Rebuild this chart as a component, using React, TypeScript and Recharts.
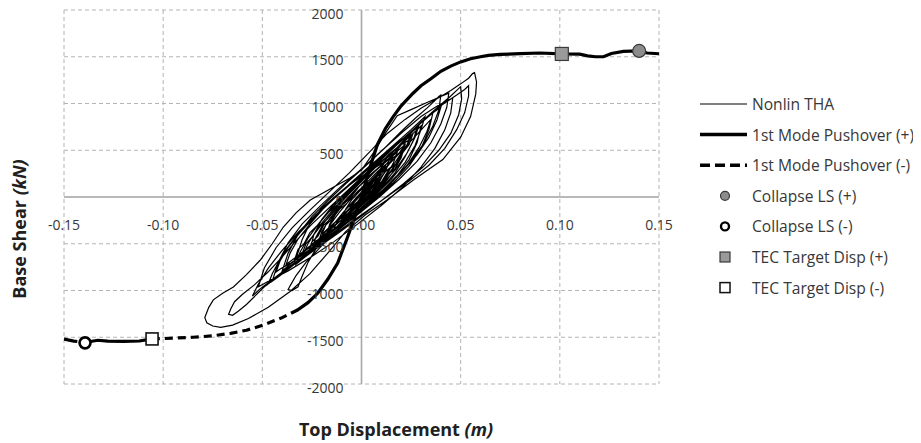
import React from 'react';
import { ComposedChart, Line, Scatter, XAxis, YAxis, CartesianGrid, ReferenceLine, Legend } from 'recharts';

// ---------- data ----------
const xTicks = [-0.15, -0.1, -0.05, 0, 0.05, 0.1, 0.15];
const yTicks = [-2000, -1500, -1000, -500, 0, 500, 1000, 1500, 2000];

const seriesNames = [
  'Nonlin THA',
  '1st Mode Pushover (+)',
  '1st Mode Pushover (-)',
  'Collapse LS (+)',
  'Collapse LS (-)',
  'TEC Target Disp (+)',
  'TEC Target Disp (-)',
];

// Nonlinear time-history hysteresis trace (displacement m, base shear kN)
const thaPath: [number, number][] = [
  [0, 0], [0.002, 60], [0.005, 140], [0.008, 210],
  [0.006, 130], [0.003, 40], [-0.001, -50], [-0.005, -140], [-0.008, -200], [-0.010, -240],
  [-0.008, -130], [-0.005, -30], [-0.001, 60], [0.004, 160], [0.009, 270], [0.012, 340], [0.014, 380],
  [0.012, 280], [0.009, 160], [0.005, 50], [0.000, -60], [-0.006, -180], [-0.011, -290], [-0.015, -370], [-0.018, -430],
  [-0.016, -290], [-0.012, -150], [-0.007, -10], [-0.001, 120], [0.006, 260], [0.012, 380], [0.017, 470], [0.022, 560],
  [0.020, 420], [0.016, 270], [0.011, 130], [0.005, 0], [-0.002, -130], [-0.009, -260], [-0.016, -380], [-0.021, -480], [-0.026, -570],
  [-0.024, -400], [-0.020, -240], [-0.014, -80], [-0.007, 60], [0.001, 210], [0.009, 360], [0.017, 500], [0.024, 640], [0.030, 760],
  [0.028, 580], [0.024, 400], [0.018, 230], [0.011, 80], [0.003, -70], [-0.006, -220], [-0.014, -350], [-0.022, -470], [-0.028, -570], [-0.033, -660],
  [-0.030, -460], [-0.026, -280], [-0.020, -120], [-0.012, 30], [-0.003, 190], [0.006, 360], [0.015, 520], [0.023, 660], [0.030, 790], [0.036, 900],
  [0.034, 720], [0.030, 520], [0.024, 330], [0.016, 150], [0.007, -20], [-0.003, -200], [-0.013, -360], [-0.022, -500], [-0.030, -620], [-0.036, -720], [-0.040, -790],
  [-0.037, -600], [-0.032, -400], [-0.025, -210], [-0.017, -40], [-0.008, 140], [0.002, 330], [0.012, 530], [0.020, 700], [0.027, 840], [0.033, 950], [0.037, 1030], [0.039, 1075], [0.040, 1090],
  [0.039, 930], [0.036, 760], [0.031, 560], [0.024, 360], [0.015, 160], [0.005, -40], [-0.006, -240], [-0.017, -430], [-0.027, -600], [-0.036, -750], [-0.041, -840], [-0.045, -900],
  [-0.042, -700], [-0.037, -490], [-0.030, -290], [-0.021, -100], [-0.011, 100], [0.000, 300], [0.011, 510], [0.021, 700], [0.030, 860], [0.038, 970], [0.043, 1030], [0.046, 1060],
  [0.045, 900], [0.042, 720], [0.037, 520], [0.030, 320], [0.021, 110], [0.010, -90], [-0.002, -290], [-0.014, -480], [-0.026, -650], [-0.037, -790], [-0.046, -890], [-0.052, -960],
  [-0.049, -760], [-0.043, -540], [-0.035, -330], [-0.026, -140], [-0.016, 60], [-0.006, 260], [0.004, 480], [0.013, 680], [0.022, 830], [0.030, 950], [0.038, 1050], [0.045, 1140], [0.050, 1210], [0.054, 1270], [0.056, 1320], [0.057, 1330],
  [0.058, 1230], [0.0576, 1100], [0.055, 860], [0.050, 640], [0.041, 400], [0.026, 180], [0.013, -30], [0.002, -190], [-0.008, -370], [-0.017, -600], [-0.026, -820], [-0.036, -1010], [-0.047, -1180], [-0.057, -1300], [-0.065, -1370], [-0.071, -1395], [-0.075, -1380], [-0.078, -1345], [-0.079, -1290],
  [-0.077, -1180], [-0.0747, -1100], [-0.070, -1030], [-0.0646, -963], [-0.058, -830], [-0.051, -674], [-0.045, -500], [-0.0394, -321], [-0.033, -170], [-0.0258, -32], [-0.014, 107], [-0.006, 200], [0.000, 289], [0.006, 471], [0.012, 680], [0.018, 870], [0.025, 935], [0.033, 1010], [0.040, 1075], [0.044, 1110],
  [0.043, 960], [0.040, 780], [0.035, 580], [0.028, 380], [0.019, 190], [0.009, 0], [-0.002, -190], [-0.014, -390], [-0.026, -590], [-0.038, -790], [-0.049, -960], [-0.058, -1150], [-0.062, -1220], [-0.065, -1265], [-0.067, -1255], [-0.066, -1200],
  [-0.064, -1120], [-0.060, -1040], [-0.054, -940], [-0.047, -800], [-0.040, -640], [-0.033, -470], [-0.025, -290], [-0.016, -110], [-0.007, 70], [0.003, 270], [0.013, 470], [0.022, 640], [0.030, 790], [0.036, 900], [0.040, 960],
  [0.038, 820], [0.034, 640], [0.028, 450], [0.020, 260], [0.011, 80], [0.001, -110], [-0.010, -320], [-0.020, -520], [-0.028, -700], [-0.033, -840], [-0.036, -950], [-0.037, -990], [-0.035, -1000], [-0.032, -960],
  [-0.030, -850], [-0.027, -700], [-0.022, -520], [-0.016, -340], [-0.009, -160], [-0.001, 20], [0.008, 220], [0.017, 420], [0.025, 600], [0.031, 740], [0.035, 830],
  [0.033, 700], [0.029, 530], [0.023, 340], [0.015, 150], [0.005, -50], [-0.006, -250], [-0.017, -440], [-0.028, -610], [-0.038, -770], [-0.046, -900], [-0.051, -980], [-0.055, -1060],
  [-0.052, -930], [-0.047, -760], [-0.040, -570], [-0.032, -380], [-0.023, -190], [-0.013, 0], [-0.002, 200], [0.009, 400], [0.018, 570], [0.025, 700], [0.029, 770],
  [0.027, 640], [0.023, 470], [0.017, 290], [0.009, 100], [0.000, -90], [-0.010, -280], [-0.020, -460], [-0.029, -610], [-0.036, -710], [-0.041, -770], [-0.043, -800],
  [-0.041, -680], [-0.037, -540], [-0.031, -380], [-0.024, -220], [-0.015, -40], [-0.006, 140], [0.004, 330], [0.013, 490], [0.020, 610], [0.025, 690],
  [0.023, 560], [0.019, 400], [0.013, 230], [0.005, 50], [-0.004, -130], [-0.014, -320], [-0.023, -480], [-0.031, -610], [-0.036, -690], [-0.038, -720],
  [-0.036, -600], [-0.032, -450], [-0.026, -290], [-0.019, -120], [-0.010, 60], [0.000, 250], [0.010, 440], [0.018, 590], [0.025, 720], [0.029, 800], [0.032, 860],
  [0.030, 720], [0.027, 550], [0.022, 370], [0.015, 190], [0.007, 20], [-0.002, -150], [-0.011, -310], [-0.019, -440], [-0.025, -550], [-0.030, -640],
  [-0.027, -500], [-0.022, -330], [-0.015, -150], [-0.007, 30], [0.002, 230], [0.012, 440], [0.022, 640], [0.031, 820], [0.039, 970], [0.045, 1080], [0.048, 1140], [0.050, 1180],
  [0.0505, 1050], [0.049, 880], [0.045, 680], [0.039, 500], [0.031, 320], [0.021, 140], [0.010, -40], [-0.001, -220], [-0.012, -390], [-0.022, -540], [-0.029, -650], [-0.033, -720],
  [-0.031, -590], [-0.027, -440], [-0.021, -270], [-0.014, -100], [-0.006, 80], [0.003, 270], [0.012, 450], [0.019, 580], [0.024, 670], [0.028, 740],
  [0.026, 600], [0.022, 430], [0.017, 260], [0.010, 90], [0.002, -80], [-0.007, -240], [-0.015, -370], [-0.021, -480], [-0.025, -560],
  [-0.023, -430], [-0.019, -280], [-0.013, -120], [-0.006, 40], [0.002, 210], [0.010, 380], [0.016, 490], [0.022, 600],
  [0.020, 460], [0.016, 300], [0.010, 140], [0.003, -20], [-0.005, -180], [-0.012, -310], [-0.018, -420], [-0.022, -500],
  [-0.020, -370], [-0.016, -230], [-0.010, -80], [-0.003, 80], [0.005, 240], [0.012, 370], [0.018, 480],
  [0.016, 360], [0.012, 210], [0.006, 60], [-0.001, -100], [-0.008, -240], [-0.014, -350], [-0.018, -430],
  [-0.016, -300], [-0.011, -160], [-0.005, -10], [0.002, 140], [0.008, 270], [0.014, 380],
  [0.012, 270], [0.008, 140], [0.002, -10], [-0.005, -160], [-0.010, -270], [-0.014, -350],
  [-0.012, -240], [-0.007, -110], [-0.001, 30], [0.005, 160], [0.010, 270],
  [0.008, 180], [0.004, 60], [-0.001, -60], [-0.006, -170], [-0.010, -250],
  [-0.007, -150], [-0.003, -40], [0.002, 70], [0.006, 160],
  [0.003, 70], [0.000, -20], [-0.004, -100],
  [0.000, -10], [0.003, 60],
  [0.006, 180], [0.010, 300], [0.013, 330], [0.016, 420], [0.019, 470], [0.021, 530],
  [0.019, 420], [0.017, 300], [0.014, 250], [0.010, 120], [0.006, 60], [0.001, -60], [-0.004, -170], [-0.009, -240], [-0.013, -330], [-0.017, -380], [-0.021, -470], [-0.024, -520], [-0.027, -600],
  [-0.025, -480], [-0.022, -420], [-0.019, -300], [-0.015, -220], [-0.010, -90], [-0.006, -20], [-0.001, 120], [0.004, 230], [0.009, 320], [0.013, 420], [0.017, 480], [0.020, 560], [0.024, 610], [0.026, 680],
  [0.024, 560], [0.021, 480], [0.018, 360], [0.014, 300], [0.010, 160], [0.005, 90], [0.000, -40], [-0.005, -130], [-0.010, -250], [-0.015, -320], [-0.019, -420], [-0.023, -470], [-0.028, -560], [-0.031, -620], [-0.034, -690],
  [-0.032, -560], [-0.029, -500], [-0.026, -380], [-0.022, -300], [-0.017, -170], [-0.012, -80], [-0.007, 50], [-0.002, 140], [0.004, 270], [0.009, 350], [0.014, 460], [0.018, 530], [0.022, 620], [0.025, 660],
  [0.023, 540], [0.020, 470], [0.016, 340], [0.012, 270], [0.007, 130], [0.002, 50], [-0.003, -80], [-0.008, -170], [-0.013, -290], [-0.018, -370], [-0.023, -480], [-0.027, -540], [-0.030, -610],
  [-0.028, -500], [-0.025, -430], [-0.021, -320], [-0.017, -230], [-0.012, -110], [-0.007, -30], [-0.002, 100], [0.003, 190], [0.008, 300], [0.012, 370], [0.016, 450],
  [0.014, 350], [0.011, 270], [0.007, 150], [0.003, 80], [-0.002, -50], [-0.006, -120], [-0.011, -230], [-0.015, -300], [-0.020, -400],
  [-0.018, -300], [-0.015, -240], [-0.011, -130], [-0.007, -60], [-0.002, 60], [0.002, 130], [0.008, 220], [0.015, 420], [0.022, 610], [0.030, 800], [0.037, 930], [0.043, 1020], [0.048, 1090], [0.052, 1150], [0.054, 1190],
  [0.054, 1080], [0.052, 900], [0.048, 720], [0.042, 520], [0.034, 340], [0.024, 170], [0.014, 20], [0.004, -130], [-0.006, -280], [-0.015, -420], [-0.024, -560], [-0.032, -680], [-0.038, -780], [-0.043, -860], [-0.047, -930],
  [-0.045, -820], [-0.042, -700], [-0.038, -560], [-0.033, -420], [-0.027, -280], [-0.020, -130], [-0.012, 30], [-0.004, 160], [0.002, 250], [0.008, 330], [0.012, 380],
  [0.008, 250], [0.004, 150], [0.000, 40], [-0.003, -40], [-0.006, -110],
  [-0.003, -20], [0.001, 60],
];

const pushoverPos: [number, number][] = [
  [0, 0], [0.004, 300], [0.008, 560], [0.012, 730], [0.016, 860], [0.020, 975], [0.026, 1110], [0.030, 1190],
  [0.035, 1265], [0.040, 1345], [0.045, 1400], [0.050, 1445], [0.055, 1478], [0.060, 1500], [0.064, 1515],
  [0.070, 1525], [0.080, 1533], [0.090, 1540], [0.101, 1530], [0.110, 1528], [0.114, 1510], [0.118, 1500],
  [0.122, 1500], [0.126, 1535], [0.132, 1558], [0.140, 1562], [0.144, 1540], [0.150, 1532],
];

const pushoverNeg: [number, number][] = [
  [0, 0], [-0.004, -250], [-0.007, -428], [-0.012, -706], [-0.017, -880], [-0.022, -1027], [-0.027, -1130],
  [-0.0323, -1209], [-0.040, -1290], [-0.0495, -1370], [-0.058, -1425], [-0.066, -1458], [-0.075, -1485],
  [-0.085, -1500], [-0.095, -1510], [-0.1056, -1518], [-0.112, -1540], [-0.120, -1545], [-0.128, -1541],
  [-0.133, -1532], [-0.1394, -1556], [-0.145, -1541], [-0.150, -1520],
];

const collapsePos = [{ x: 0.140, y: 1562 }];
const collapseNeg = [{ x: -0.1394, y: -1560 }];
const tecPos = [{ x: 0.101, y: 1530 }];
const tecNeg = [{ x: -0.1056, y: -1518 }];

const toObj = (arr: [number, number][]) => arr.map(([x, y]) => ({ x, y }));
const thaData = toObj(thaPath);
const posData = toObj(pushoverPos);
const negData = toObj(pushoverNeg);

// ---------- layout (chart svg covers the whole 921x443 page) ----------
const W = 921;
const H = 443;
const X_AXIS_H = 30;
const Y_AXIS_W = 40;
const PLOT_LEFT = 64;
const PLOT_TOP = 10;
const PLOT_RIGHT_GAP = 262;
const PLOT_BOTTOM_GAP = 59;
const MARGIN = { top: PLOT_TOP, right: PLOT_RIGHT_GAP, bottom: PLOT_BOTTOM_GAP - X_AXIS_H, left: PLOT_LEFT - Y_AXIS_W };
const PLOT_W = W - PLOT_LEFT - PLOT_RIGHT_GAP;
const PLOT_H = H - PLOT_TOP - PLOT_BOTTOM_GAP;
const ZERO_X = PLOT_LEFT + PLOT_W / 2;
const ZERO_Y = PLOT_TOP + PLOT_H / 2;
const FONT = '"Open Sans", "DejaVu Sans", sans-serif';
const TEXT = '#383838';

const renderXTick = (props: any) => {
  const { x, payload } = props;
  return (
    <text x={x} y={ZERO_Y + 27} textAnchor="middle" dominantBaseline="central" fontFamily={FONT} fontSize={14} fill={TEXT}>
      {Number(payload.value).toFixed(2)}
    </text>
  );
};

const renderYTick = (props: any) => {
  const { y, payload } = props;
  return (
    <text x={ZERO_X - 18} y={y + 3} textAnchor="end" dominantBaseline="central" fontFamily={FONT} fontSize={14} fill={TEXT}>
      {payload.value}
    </text>
  );
};

const GrayCircle = (p: any) => <circle cx={p.cx} cy={p.cy} r={6.5} fill="#8c8c8c" stroke="#3a3a3a" strokeWidth={1.2} />;
const OpenCircle = (p: any) => <circle cx={p.cx} cy={p.cy} r={5.5} fill="#ffffff" stroke="#000000" strokeWidth={2.6} />;
const GraySquare = (p: any) => <rect x={p.cx - 6.5} y={p.cy - 6.5} width={13} height={13} fill="#9a9a9a" stroke="#3a3a3a" strokeWidth={1.2} />;
const OpenSquare = (p: any) => <rect x={p.cx - 6} y={p.cy - 6} width={12} height={12} fill="#ffffff" stroke="#111111" strokeWidth={1.6} />;

const NEG_DASH = '140 5 8 5 8 5 8 5 8 5 8 5 8 5 8 5 8 5 8 5 8 5 74 9 20 400';

const LegendContent = () => {
  const rowY = (i: number) => 16 + i * 30.6;
  return (
    <svg width={230} height={215} style={{ overflow: 'visible' }}>
      <line x1={8} x2={55} y1={rowY(0)} y2={rowY(0)} stroke="#000" strokeWidth={1.2} />
      <line x1={8} x2={55} y1={rowY(1)} y2={rowY(1)} stroke="#000" strokeWidth={3.5} />
      <line x1={8} x2={55} y1={rowY(2)} y2={rowY(2)} stroke="#000" strokeWidth={3.5} strokeDasharray="10 5" />
      <circle cx={33} cy={rowY(3)} r={4.5} fill="#8c8c8c" stroke="#3a3a3a" strokeWidth={1.2} />
      <circle cx={33} cy={rowY(4)} r={4} fill="#fff" stroke="#000" strokeWidth={2.4} />
      <rect x={28} y={rowY(5) - 5} width={10} height={10} fill="#9a9a9a" stroke="#3a3a3a" strokeWidth={1.2} />
      <rect x={28} y={rowY(6) - 5} width={10} height={10} fill="#fff" stroke="#111" strokeWidth={1.5} />
      {seriesNames.map((n, i) => (
        <text key={n} x={60} y={rowY(i)} dominantBaseline="central" fontFamily={FONT} fontSize={15.6} fill={TEXT}>
          {n}
        </text>
      ))}
    </svg>
  );
};

export default function App() {
  return (
    <div style={{ position: 'relative', width: W, height: H, margin: '-8px 0 0 -8px', fontFamily: FONT }}>
      <ComposedChart width={W} height={H} margin={MARGIN}>
        <CartesianGrid stroke="#b4b4b4" strokeDasharray="4 3" strokeWidth={1} />
        <XAxis
          type="number"
          dataKey="x"
          domain={[-0.15, 0.15]}
          ticks={xTicks}
          interval={0}
          allowDataOverflow
          height={X_AXIS_H}
          axisLine={false}
          tickLine={false}
          tick={renderXTick}
        />
        <YAxis
          type="number"
          dataKey="y"
          domain={[-2000, 2000]}
          ticks={yTicks}
          interval={0}
          allowDataOverflow
          width={Y_AXIS_W}
          axisLine={false}
          tickLine={false}
          tick={renderYTick}
        />
        <ReferenceLine x={0} stroke="#a8a8a8" strokeWidth={1.6} />
        <ReferenceLine y={0} stroke="#b8b8b8" strokeWidth={2} />
        <Line data={thaData} dataKey="y" name={seriesNames[0]} type="linear" stroke="#000" strokeWidth={1.2} dot={false} activeDot={false} isAnimationActive={false} />
        <Line data={posData} dataKey="y" name={seriesNames[1]} type="linear" stroke="#000" strokeWidth={3.2} dot={false} activeDot={false} isAnimationActive={false} />
        <Line data={negData} dataKey="y" name={seriesNames[2]} type="linear" stroke="#000" strokeWidth={3.2} strokeDasharray={NEG_DASH} dot={false} activeDot={false} isAnimationActive={false} />
        <Scatter data={collapsePos} name={seriesNames[3]} shape={GrayCircle} isAnimationActive={false} />
        <Scatter data={collapseNeg} name={seriesNames[4]} shape={OpenCircle} isAnimationActive={false} />
        <Scatter data={tecPos} name={seriesNames[5]} shape={GraySquare} isAnimationActive={false} />
        <Scatter data={tecNeg} name={seriesNames[6]} shape={OpenSquare} isAnimationActive={false} />
        <Legend
          layout="vertical"
          align="center"
          verticalAlign="middle"
          content={<LegendContent />}
          wrapperStyle={{ left: 692, top: 88, width: 230, height: 215 }}
        />
      </ComposedChart>
      <div
        style={{
          position: 'absolute', left: 246, top: 418, width: 300, textAlign: 'center',
          fontFamily: FONT, fontSize: 18, fontWeight: 700, color: '#202020', lineHeight: '22px',
        }}
      >
        Top Displacement <span style={{ fontStyle: 'italic' }}>(m)</span>
      </div>
      <div
        style={{
          position: 'absolute', left: 19 - 100, top: 229 - 11, width: 200, height: 22, textAlign: 'center',
          fontFamily: FONT, fontSize: 18, fontWeight: 700, color: '#202020', lineHeight: '22px',
          transform: 'rotate(-90deg)',
        }}
      >
        Base Shear <span style={{ fontStyle: 'italic' }}>(kN)</span>
      </div>
    </div>
  );
}
